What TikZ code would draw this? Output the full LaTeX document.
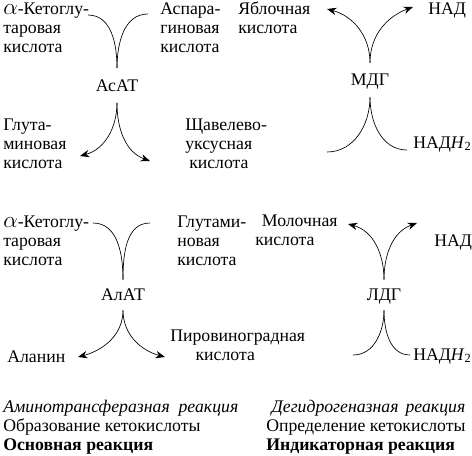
\documentclass[tikz,border=0pt]{standalone}
\usepackage{fontspec}
\setmainfont{Liberation Serif}
\usetikzlibrary{arrows.meta}
\newcommand{\alphasym}{{\fontsize{16.5}{14}\selectfont$\alpha$}}

\begin{document}
\lineskiplimit=-100pt
\begin{tikzpicture}[x=0.75pt,y=-0.75pt,
  txt/.style={anchor=base west,inner sep=0pt,align=left,font=\fontsize{13.3}{14.25}\selectfont},
  enzyme/.style={inner sep=0pt,minimum height=#1,text height=8.8pt,text depth=0pt,font=\fontsize{13.3}{14.25}\selectfont},
  flow/.style={line width=0.5pt},
  arr/.style={line width=0.5pt,-{Stealth[length=7pt,width=5.5pt]}}]
\useasboundingbox (0,0) rectangle (472,455);
% top: AsAT and MDG
\node[txt] (kg1) at (3,52.5) {\alphasym-Кетоглу-\\таровая\\кислота};
\node[txt] (asp) at (160,52.5) {Аспара-\\гиновая\\кислота};
\node[txt] (glu1) at (3,168) {Глута-\\миновая\\кислота};
\node[txt] (oxal) at (185,168) {Щавелево-\\уксусная\\\hspace*{3pt}кислота};
\node[txt] (malat) at (238,33.5) {Яблочная\\кислота};
\node[txt] (nad1) at (428,14.5) {НАД};
\node[txt] (nadh1) at (413,148) {НАД\textit{H}\textsubscript{2}};
\node[enzyme=25.5pt] (asat) at (117,85.5) {АсАТ};
\node[enzyme=25.5pt] (mdg) at (370,80) {МДГ};
\coordinate (a1) at (88,15);
\coordinate (a2) at (148,14);
\coordinate (a3) at (80,156);
\coordinate (a4) at (150,161);
\draw[flow] (a1) to[out=0,in=90] (asat.north);
\draw[flow] (a2) to[out=180,in=90] (asat.north);
\draw[arr] (asat.south) to[out=-90,in=15] (a3);
\draw[arr] (asat.south) to[out=-90,in=160] (a4);
\coordinate (m1) at (327,9);
\coordinate (m2) at (413,7);
\coordinate (m3) at (327,152);
\coordinate (m4) at (407,150);
\draw[arr] (mdg.north) to[out=90,in=-15] (m1);
\draw[arr] (mdg.north) to[out=90,in=200] (m2);
\draw[flow] (mdg.south) to[out=-90,in=0] (m3);
\draw[flow] (mdg.south) to[out=-90,in=180] (m4);
% bottom: AlAT and LDG
\node[txt] (kg2) at (3,265) {\alphasym-Кетоглу-\\таровая\\кислота};
\node[txt] (glu2) at (177,265) {Глутами-\\новая\\кислота};
\node[txt] (ala) at (7,362) {Аланин};
\node[txt] (pyr) at (170,360) {Пировиноградная\\\hspace*{19pt}кислота};
\node[txt] (lact) at (255,245) {\hspace*{5pt}Молочная\\кислота};
\node[txt] (nad2) at (434,246) {НАД};
\node[txt] (nadh2) at (413,360) {НАД\textit{H}\textsubscript{2}};
\node[enzyme=22.5pt] (alat) at (123,295) {АлАТ};
\node[enzyme=22.5pt] (ldg) at (384,295) {ЛДГ};
\coordinate (b1) at (93,223);
\coordinate (b2) at (150,223);
\coordinate (b3) at (78,357);
\coordinate (b4) at (165,357);
\draw[flow] (b1) to[out=0,in=90] (alat.north);
\draw[flow] (b2) to[out=180,in=90] (alat.north);
\draw[arr] (alat.south) to[out=-90,in=15] (b3);
\draw[arr] (alat.south) to[out=-90,in=165] (b4);
\coordinate (l1) at (348,224);
\coordinate (l2) at (417,223);
\coordinate (l3) at (353,355);
\coordinate (l4) at (410,355);
\draw[arr] (ldg.north) to[out=90,in=-15] (l1);
\draw[arr] (ldg.north) to[out=90,in=200] (l2);
\draw[flow] (ldg.south) to[out=-90,in=0] (l3);
\draw[flow] (ldg.south) to[out=-90,in=180] (l4);
% captions
\node[txt] (cap1) at (3,450) {\textit{Аминотрансферазная\hspace{0.5em}реакция}\\Образование кетокислоты\\\textbf{Основная реакция}};
\node[txt] (cap2) at (266,450) {\hspace*{4pt}\textit{Дегидрогеназная\hspace{0.4em}реакция}\\Определение кетокислоты\\\textbf{Индикаторная реакция}};
\end{tikzpicture}
\end{document}
